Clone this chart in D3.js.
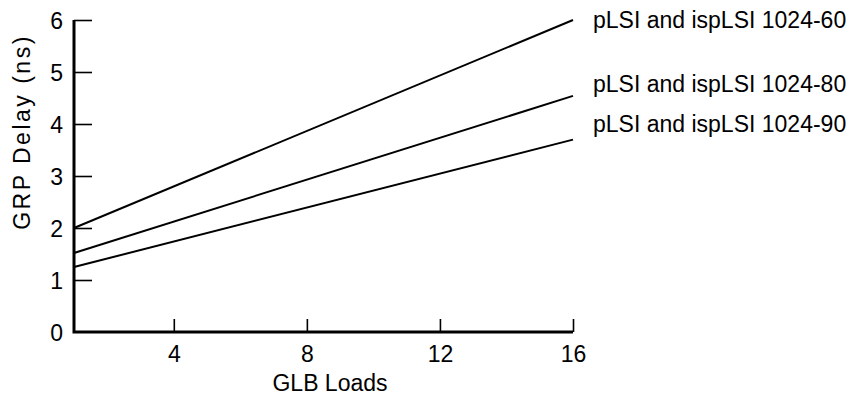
<!DOCTYPE html>
<html><head><meta charset="utf-8">
<script src="https://cdn.jsdelivr.net/npm/d3@7"></script>
<style>
html,body{margin:0;padding:0;background:#fff;}
svg{display:block;font-family:"Liberation Sans",Arial,Helvetica,sans-serif;}
</style></head>
<body>
<svg id="chart" width="852" height="397"></svg>
<script>
// Data
const glbLoads = [1, 16];
const delay60 = [2.0, 6.0];
const delay80 = [1.52, 4.54];
const delay90 = [1.25, 3.70];
const seriesNames = ["pLSI and ispLSI 1024-60", "pLSI and ispLSI 1024-80", "pLSI and ispLSI 1024-90"];
const xTicks = [4, 8, 12, 16];
const yTicks = [0, 1, 2, 3, 4, 5, 6];

const series = [delay60, delay80, delay90].map((vals, i) => ({
  name: seriesNames[i],
  points: glbLoads.map((x, j) => ({x, y: vals[j]}))
}));

const svg = d3.select("#chart");
const x = d3.scaleLinear().domain([1, 16]).range([74, 573]);
const y = d3.scaleLinear().domain([0, 6]).range([332, 20]);

// Axes
const xAxis = d3.axisBottom(x).tickValues(xTicks).tickSize(0).tickPadding(0).tickFormat(d3.format("d"));
const gx = svg.append("g").attr("transform", `translate(0,${y(0)})`).call(xAxis);
gx.select(".domain").remove();
gx.attr("font-size", null).attr("font-family", null);
gx.selectAll(".tick text").attr("y", 30).attr("dy", 0).style("font-size", "23px").attr("fill", "#000");
gx.selectAll(".tick").append("line").attr("y1", 0).attr("y2", -13).attr("stroke", "#000").attr("stroke-width", 1.6);

const yAxis = d3.axisLeft(y).tickValues(yTicks).tickSize(0).tickPadding(11).tickFormat(d3.format("d"));
const gy = svg.append("g").attr("transform", `translate(${x(1)},0)`).call(yAxis);
gy.select(".domain").remove();
gy.attr("font-size", null).attr("font-family", null);
gy.selectAll(".tick text").style("font-size", "23px").attr("fill", "#000").attr("dy", "0.36em");
gy.selectAll(".tick").filter(d => d > 0).append("line").attr("x1", 0).attr("x2", 18).attr("stroke", "#000").attr("stroke-width", 1.6);

// axis lines
svg.append("path")
  .attr("d", `M${x(1)},${y(6)}L${x(1)},${y(0)}L${x(16)},${y(0)}`)
  .attr("fill", "none").attr("stroke", "#000").attr("stroke-width", 3);

// Lines
const line = d3.line().x(d => x(d.x)).y(d => y(d.y));
svg.append("g").selectAll("path").data(series).join("path")
  .attr("d", d => line(d.points))
  .attr("fill", "none").attr("stroke", "#000").attr("stroke-width", 2);

// Labels
const labelY = [28, 92, 132];
svg.append("g").selectAll("text").data(series).join("text")
  .attr("x", 593).attr("y", (d, i) => labelY[i])
  .style("font-size", "23px").attr("fill", "#000")
  .text(d => d.name);

// Axis titles
svg.append("text").attr("x", 330).attr("y", 391).attr("text-anchor", "middle")
  .style("font-size", "23px").attr("fill", "#000").text("GLB Loads");
svg.append("text").attr("transform", "translate(30,132) rotate(-90)").attr("text-anchor", "middle")
  .style("font-size", "23px").attr("letter-spacing", 2.5).attr("fill", "#000").text("GRP Delay (ns)");
</script>
</body></html>
